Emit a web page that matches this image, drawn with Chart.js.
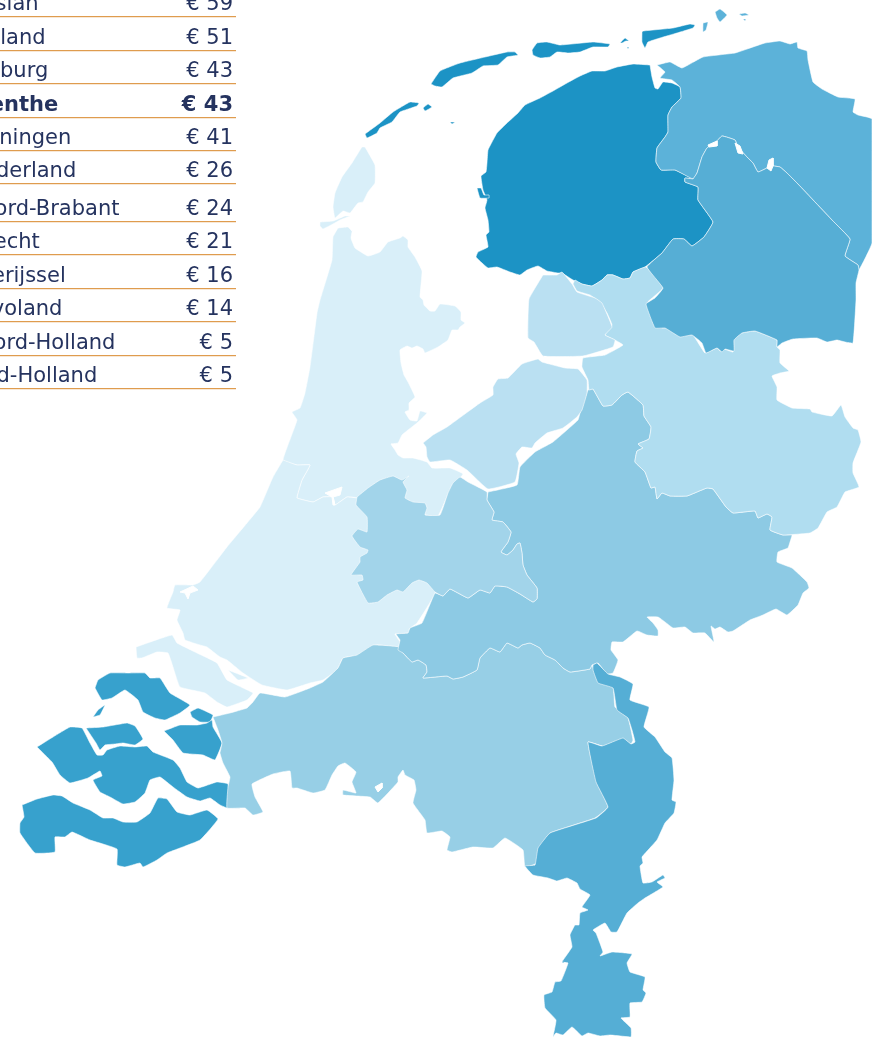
<!DOCTYPE html>
<html>
<head>
<meta charset="utf-8">
<style>
  html, body { margin: 0; background: #fff; overflow: hidden; }
  #wrap { position: relative; width: 872px; height: 1037px; overflow: hidden; }
  #map { position: absolute; left: 0; top: 0; }
  .row {
    position: absolute; left: 0; width: 236px; height: 25px;
    font: 21px/25px "DejaVu Sans", sans-serif; color: #25335f;
    border-bottom: 1px solid #df9c4e; box-shadow: 0 1px 0 rgba(226,163,90,.25); white-space: nowrap;
  }
  .row .name { position: absolute; }
  .row .price { position: absolute; right: 3px; }
  .row.bold { font-weight: bold; }
</style>
</head>
<body>
<div id="wrap">
  <canvas id="map" width="872" height="1037"></canvas>
  <div id="table"></div>
</div>
<script src="https://cdn.jsdelivr.net/npm/chart.js@4/dist/chart.umd.min.js"></script>
<script>
// table values
const provinces = ['Fryslân', 'Zeeland', 'Limburg', 'Drenthe', 'Groningen', 'Gelderland', 'Noord-Brabant', 'Utrecht', 'Overijssel', 'Flevoland', 'Noord-Holland', 'Zuid-Holland']
const prices = [59, 51, 43, 43, 41, 26, 24, 21, 16, 14, 5, 5]
const highlighted = 'Drenthe'
const rowLines = [16, 50, 83, 117, 150, 183, 221, 254, 288, 321, 355, 388]
const labelLefts = [-36, -40, -38, -38, -38, -39, -34, -38, -37, -39, -35, -37]

// map outlines (x, y on the map scales)
const frieslandMain = [[650,65],[633,64],[617,67],[605,71],[592,71],[580,76],[567,83],[553,91],[540,98],[525,105],[518,113],[507,123],[497,133],[492,142],[488,150],[487,163],[486,172],[481,176],[483,190],[487,200],[485,208],[488,220],[489,232],[486,235],[488,247],[478,252],[476,257],[482,263],[488,268],[497,267],[510,272],[520,275],[527,270],[538,266],[547,271],[558,273],[562,273],[573,280],[582,284],[592,286],[602,280],[607,275],[613,275],[623,279],[630,278],[633,272],[645,267],[662,253],[673,239],[684,239],[692,246],[704,237],[713,222],[698,200],[698,187],[685,182],[685,178],[693,179],[675,170],[661,170],[656,162],[657,148],[665,137],[668,132],[668,115],[672,107],[681,98],[680,87],[672,83],[663,82],[658,89],[655,88],[652,77]]
const vlieland = [[365,134],[380,123],[393,112],[410,102],[419,103],[417,106],[400,112],[392,122],[380,128],[377,133],[367,138]]
const richel = [[423,108],[428,104],[432,107],[425,111]]
const griend = [[450,122],[455,122],[452,124]]
const terschelling = [[431,84],[440,71],[460,63],[507,52],[515,52],[518,55],[507,57],[498,65],[483,66],[472,73],[453,78],[442,87],[435,86]]
const ameland = [[532,50],[537,43],[547,42],[560,45],[593,42],[610,44],[608,47],[593,47],[580,52],[568,53],[557,52],[550,57],[540,58],[533,55]]
const engelsmanplaat = [[620,43],[625,38],[629,41],[626,41],[622,43]]
const simonszand = [[627,47],[629,47],[628,49]]
const schiermonnikoog = [[642,32],[642,42],[645,48],[648,42],[660,38],[677,33],[693,28],[695,25],[690,24],[673,28],[643,31]]
const breezanddijk = [[477,188],[481,188],[484,195],[489,195],[489,198],[480,198]]

const groningenMain = [[657,65],[670,62],[682,68],[703,57],[735,53],[753,47],[765,43],[780,41],[790,44],[797,42],[798,48],[807,51],[808,60],[813,82],[822,89],[838,97],[855,99],[853,112],[858,115],[872,119],[872,243],[859,270],[858,265],[845,256],[850,239],[832,220],[797,183],[787,173],[780,167],[773,166],[767,168],[758,172],[753,163],[747,157],[738,147],[735,140],[722,136],[715,143],[707,148],[702,157],[697,173],[693,179],[675,170],[661,170],[656,162],[657,148],[665,137],[668,132],[668,115],[672,107],[681,98],[680,87],[672,80],[660,78],[665,72]]
const rottumeroog = [[703,23],[708,22],[706,30],[703,32]]
const rottumerplaat = [[715,12],[720,9],[727,15],[720,22],[717,18]]
const zuiderduintjes = [[739,14],[745,13],[749,15],[742,16]]
const boschplaat = [[743,19],[746,19],[745,21]]

const drenthe = [[693,179],[697,173],[702,157],[707,148],[715,143],[722,136],[735,140],[738,147],[747,157],[753,163],[758,172],[767,168],[773,166],[780,167],[787,173],[797,183],[832,220],[850,239],[845,256],[858,265],[859,270],[856,283],[856,300],[853,343],[845,342],[837,340],[827,342],[817,338],[793,339],[782,343],[777,347],[777,340],[755,331],[742,333],[734,340],[734,351],[725,349],[722,352],[717,348],[706,353],[702,343],[692,335],[680,337],[665,328],[655,328],[646,304],[655,298],[663,288],[647,267],[662,253],[673,239],[684,239],[692,246],[704,237],[713,222],[698,200],[698,187],[685,182],[685,178]]

const overijssel = [[573,284],[575,280],[582,284],[592,286],[602,280],[607,275],[613,275],[623,279],[630,278],[633,272],[646,267],[663,288],[647,303],[655,327],[667,328],[683,335],[693,335],[705,353],[717,348],[720,351],[724,349],[733,352],[733,340],[742,333],[755,331],[777,340],[777,347],[780,350],[780,363],[789,371],[780,373],[772,376],[777,387],[777,400],[792,408],[810,409],[812,412],[832,416],[841,405],[845,417],[853,428],[858,430],[861,442],[853,463],[853,473],[859,487],[845,492],[837,507],[827,512],[818,528],[810,533],[783,535],[770,530],[772,517],[767,514],[758,518],[755,511],[733,513],[726,507],[713,489],[707,488],[697,492],[687,496],[670,496],[662,493],[657,499],[655,487],[651,488],[645,472],[635,462],[637,451],[643,448],[638,444],[649,439],[651,427],[644,416],[643,405],[628,392],[622,395],[612,405],[603,406],[593,389],[589,390],[588,380],[582,367],[583,358],[605,355],[623,345],[615,340],[605,335],[612,325],[607,313],[600,302],[590,295],[577,291]]

const flevolandNorth = [[543,275],[529,299],[528,338],[534,342],[543,356],[583,356],[613,347],[615,340],[605,335],[612,327],[602,303],[595,298],[577,292],[572,284],[562,272],[557,275]]
const flevolandSouth = [[423,443],[433,435],[447,427],[480,403],[493,395],[493,387],[498,379],[508,378],[522,364],[538,359],[542,362],[565,368],[578,369],[587,380],[587,393],[582,410],[577,417],[563,428],[547,433],[535,443],[532,448],[522,447],[516,454],[519,463],[515,482],[488,489],[467,470],[450,460],[430,462],[427,457],[426,447]]

const texel = [[365,147],[362,147],[352,163],[342,177],[335,193],[333,207],[335,218],[343,211],[350,213],[358,203],[363,202],[368,192],[375,183],[375,165]]
const texelSpit = [[320,222],[333,221],[345,216],[350,216],[340,220],[333,224],[323,229],[320,226]]
const noordHolland = [[338,228],[348,227],[352,231],[353,227],[351,238],[355,248],[368,256],[380,252],[388,242],[400,238],[403,236],[408,240],[408,247],[415,257],[422,271],[420,297],[423,300],[424,305],[430,311],[435,311],[440,304],[455,306],[461,312],[461,320],[465,323],[460,327],[458,330],[452,330],[448,340],[438,347],[425,353],[423,349],[417,346],[412,348],[407,346],[400,350],[401,363],[404,375],[408,382],[415,397],[409,403],[409,410],[405,412],[410,420],[417,421],[420,411],[427,413],[417,423],[408,430],[402,435],[398,443],[391,444],[395,450],[398,455],[403,458],[413,458],[427,462],[432,468],[450,468],[463,474],[450,490],[438,516],[425,515],[400,510],[357,510],[357,498],[347,497],[335,505],[333,497],[323,497],[313,502],[297,498],[298,493],[302,480],[310,465],[297,465],[283,460],[297,420],[292,412],[300,408],[305,393],[310,367],[317,313],[320,300],[332,260],[333,237]]

const zuidHollandMain = [[283,460],[273,477],[260,507],[247,523],[227,547],[200,582],[193,585],[175,585],[173,592],[167,608],[180,610],[177,620],[183,633],[185,640],[200,645],[207,647],[220,657],[227,660],[243,673],[262,685],[287,690],[310,683],[323,680],[337,670],[343,658],[360,655],[377,645],[398,647],[400,642],[395,634],[410,633],[409,629],[417,623],[435,593],[430,540],[400,510],[357,498],[347,497],[335,505],[333,497],[323,497],[313,502],[297,498],[298,493],[302,480],[310,465],[297,465]]
const goeree = [[136,647],[172,635],[177,643],[197,653],[217,663],[227,680],[253,693],[247,700],[227,707],[217,702],[205,693],[180,687],[173,667],[168,653],[157,652],[142,658],[137,658]]
const tiengemeten = [[228,670],[248,678],[238,680]]

const utrecht = [[357,497],[356,505],[367,517],[367,532],[358,529],[352,536],[360,547],[368,550],[367,553],[360,557],[360,562],[351,575],[362,575],[363,580],[357,582],[368,603],[378,602],[387,595],[397,590],[403,592],[412,583],[419,580],[427,583],[435,592],[443,596],[450,589],[468,598],[480,590],[490,593],[495,586],[507,587],[520,594],[533,602],[537,599],[537,588],[527,575],[523,565],[522,553],[520,543],[517,544],[513,550],[507,555],[501,552],[508,542],[511,532],[503,522],[492,520],[494,512],[487,500],[487,492],[468,482],[460,477],[453,483],[448,493],[440,515],[425,515],[427,508],[425,503],[413,502],[405,498],[407,490],[403,482],[409,476],[402,480],[393,476],[380,480],[368,488]]

const gelderland = [[488,492],[517,485],[520,467],[535,452],[553,442],[578,420],[580,413],[588,390],[593,389],[603,406],[612,405],[622,395],[628,392],[643,405],[644,416],[651,427],[649,439],[638,444],[643,448],[637,451],[635,462],[645,472],[651,488],[655,487],[657,499],[662,493],[670,496],[687,496],[697,492],[707,488],[713,489],[726,507],[733,513],[755,511],[758,518],[767,514],[772,517],[770,530],[783,535],[792,535],[790,542],[788,548],[778,552],[777,562],[792,568],[807,582],[809,588],[803,593],[798,605],[787,615],[776,609],[763,615],[750,620],[733,631],[728,632],[720,627],[715,629],[711,626],[714,642],[705,633],[693,633],[685,627],[673,628],[665,622],[658,617],[647,617],[653,623],[658,630],[658,636],[647,635],[637,631],[623,642],[612,642],[611,650],[618,660],[613,673],[607,674],[598,663],[592,665],[590,669],[570,672],[563,668],[555,660],[545,655],[540,648],[530,643],[522,645],[518,648],[507,643],[500,652],[490,648],[480,658],[477,670],[463,677],[453,679],[447,676],[423,678],[427,672],[426,665],[418,660],[412,662],[403,653],[398,650],[400,640],[396,634],[408,633],[410,628],[422,623],[435,593],[443,596],[450,589],[468,598],[480,590],[490,593],[495,586],[507,587],[520,594],[533,602],[537,599],[537,588],[527,575],[523,565],[522,553],[520,543],[517,544],[513,550],[507,555],[501,552],[508,542],[511,532],[503,522],[492,520],[494,512],[487,500]]

const noordBrabant = [[213,717],[230,713],[247,708],[253,702],[260,693],[285,697],[310,688],[323,682],[338,668],[343,658],[357,655],[373,645],[400,647],[403,653],[412,662],[418,660],[426,665],[427,672],[423,678],[447,676],[453,679],[463,677],[477,670],[480,658],[490,648],[500,652],[507,643],[518,648],[522,645],[530,643],[540,648],[545,655],[555,660],[563,668],[570,672],[590,669],[592,665],[597,678],[613,687],[615,707],[628,718],[633,740],[631,744],[623,739],[603,746],[588,742],[597,783],[608,807],[595,818],[550,833],[540,847],[537,863],[525,867],[523,850],[505,838],[493,848],[473,847],[452,852],[447,850],[450,837],[442,831],[427,833],[425,820],[413,803],[416,790],[414,780],[405,775],[403,770],[398,777],[398,782],[378,803],[370,797],[343,795],[343,790],[356,793],[352,782],[356,772],[345,763],[338,766],[332,775],[325,790],[313,793],[297,788],[292,788],[290,771],[273,774],[252,784],[255,797],[263,812],[253,815],[245,808],[227,808],[228,787],[230,777],[223,763],[220,753],[222,743],[218,730]]

const limburg = [[593,665],[597,663],[608,674],[620,677],[633,684],[630,700],[649,707],[644,727],[655,737],[665,752],[672,758],[674,780],[672,800],[676,802],[674,813],[665,823],[657,840],[642,857],[643,863],[640,866],[643,883],[652,882],[663,875],[665,878],[657,882],[663,887],[645,898],[638,903],[627,913],[617,932],[611,932],[605,923],[593,930],[596,933],[603,952],[600,956],[612,952],[632,954],[627,963],[630,972],[645,977],[643,990],[646,993],[642,1002],[630,1003],[630,1017],[621,1018],[631,1028],[631,1037],[610,1035],[600,1036],[588,1033],[582,1036],[572,1027],[563,1035],[556,1033],[553,1037],[556,1020],[545,1008],[544,995],[552,992],[555,982],[561,981],[568,963],[562,962],[572,947],[570,935],[575,925],[579,925],[580,913],[588,910],[582,907],[590,895],[580,889],[577,883],[567,878],[557,881],[548,878],[533,875],[525,866],[535,865],[538,848],[550,833],[596,818],[608,807],[596,782],[588,742],[602,746],[623,738],[631,744],[635,742],[632,730],[628,718],[617,710],[613,688],[598,683],[593,670]]

const schouwen = [[95,688],[98,680],[110,673],[128,673],[145,673],[150,678],[160,678],[170,693],[190,705],[180,713],[165,720],[155,718],[143,712],[138,700],[125,690],[112,698],[102,700]]
const tholen = [[190,712],[198,708],[213,715],[210,722],[200,722],[192,717]]
const zuidBevelandEast = [[164,731],[180,725],[197,725],[207,723],[212,720],[213,727],[222,743],[215,760],[203,755],[183,753],[173,740]]
const noordBeveland = [[86,728],[103,727],[127,723],[135,726],[143,739],[135,745],[123,743],[115,744],[105,745],[100,750],[96,743]]
const walcheren = [[37,747],[53,737],[70,727],[82,728],[90,743],[97,755],[103,755],[107,750],[120,746],[135,747],[147,746],[153,752],[173,760],[180,768],[187,782],[198,788],[217,782],[228,784],[228,808],[220,805],[210,798],[200,801],[187,797],[173,787],[160,777],[150,780],[145,793],[135,802],[123,804],[110,797],[100,792],[93,780],[102,776],[100,771],[88,778],[70,783],[60,775],[52,762]]
const neeltjeJans = [[93,717],[98,710],[105,705],[100,715]]
const zeeuwsVlaanderen = [[22,805],[37,799],[53,795],[62,796],[73,803],[90,810],[103,818],[113,818],[123,822],[137,822],[150,813],[158,798],[167,799],[177,812],[190,815],[207,810],[218,819],[200,840],[167,853],[157,860],[143,867],[140,863],[125,867],[117,865],[117,849],[90,840],[72,832],[65,837],[55,837],[55,852],[35,853],[20,833],[20,823],[24,817]]

// small lakes and inlets left open in the provinces
const lakes = [
  [[708,145],[717,141],[717,146],[709,147]],
  [[735,143],[740,146],[743,154],[738,153]],
  [[769,160],[773,158],[773,166],[771,171],[767,168]],
  [[325,493],[342,487],[340,495],[333,497],[335,505],[333,505],[332,497]],
  [[180,592],[193,586],[198,590],[190,593],[188,599],[185,593]],
  [[375,787],[382,783],[382,788],[378,792]]
]

const regions = [
  { name: 'Fryslân', parts: [frieslandMain, vlieland, richel, griend, terschelling, ameland, engelsmanplaat, simonszand, schiermonnikoog, breezanddijk] },
  { name: 'Noord-Holland', parts: [noordHolland, texel, texelSpit] },
  { name: 'Zuid-Holland', parts: [zuidHollandMain, goeree, tiengemeten] },
  { name: 'Zeeland', parts: [schouwen, tholen, zuidBevelandEast, noordBeveland, walcheren, neeltjeJans, zeeuwsVlaanderen] },
  { name: 'Noord-Brabant', parts: [noordBrabant] },
  { name: 'Gelderland', parts: [gelderland] },
  { name: 'Utrecht', parts: [utrecht] },
  { name: 'Limburg', parts: [limburg] },
  { name: 'Overijssel', parts: [overijssel] },
  { name: 'Flevoland', parts: [flevolandNorth, flevolandSouth] },
  { name: 'Groningen', parts: [groningenMain, rottumeroog, rottumerplaat, zuiderduintjes, boschplaat] },
  { name: 'Drenthe', parts: [drenthe] }
]

const shades = {
  'Fryslân': '#1c93c5', 'Zeeland': '#37a1cd', 'Limburg': '#55aed5', 'Drenthe': '#56aed5',
  'Groningen': '#5cb2d9', 'Gelderland': '#8dcae4', 'Noord-Brabant': '#97cfe6', 'Utrecht': '#a2d4ea',
  'Overijssel': '#b0ddf0', 'Flevoland': '#bae0f2', 'Noord-Holland': '#d9eff9', 'Zuid-Holland': '#d9eff9'
}

function polygonDataset(points, color, border, tension) {
  return {
    data: points.concat([points[0]]),
    showLine: true,
    fill: 'shape',
    backgroundColor: color,
    borderColor: border,
    borderWidth: 1,
    pointRadius: 0,
    tension: tension
  }
}

const datasets = []
regions.forEach(region => {
  region.parts.forEach(part => {
    datasets.push(polygonDataset(part, shades[region.name], 'rgba(255,255,255,0.55)', 0.1))
  })
})
lakes.forEach(lake => datasets.push(polygonDataset(lake, '#ffffff', '#ffffff', 0)))
// chart.js paints the first dataset last, so flip the order to paint in list order
datasets.forEach((d, i) => { d.order = datasets.length - i })

new Chart(document.getElementById('map').getContext('2d'), {
  type: 'scatter',
  data: { datasets: datasets },
  options: {
    responsive: false,
    animation: false,
    events: [],
    layout: { padding: 0 },
    plugins: { legend: { display: false }, tooltip: { enabled: false }, title: { display: false } },
    scales: {
      x: { type: 'linear', min: 0, max: 872, display: false },
      y: { type: 'linear', min: 0, max: 1037, reverse: true, display: false }
    }
  }
})

const table = document.getElementById('table')
provinces.forEach((name, i) => {
  const row = document.createElement('div')
  row.className = name === highlighted ? 'row bold' : 'row'
  row.style.top = (rowLines[i] - 25) + 'px'
  row.innerHTML = `<span class="name" style="left:${labelLefts[i]}px">${name}</span><span class="price">€ ${prices[i]}</span>`
  table.appendChild(row)
})
</script>
</body>
</html>
